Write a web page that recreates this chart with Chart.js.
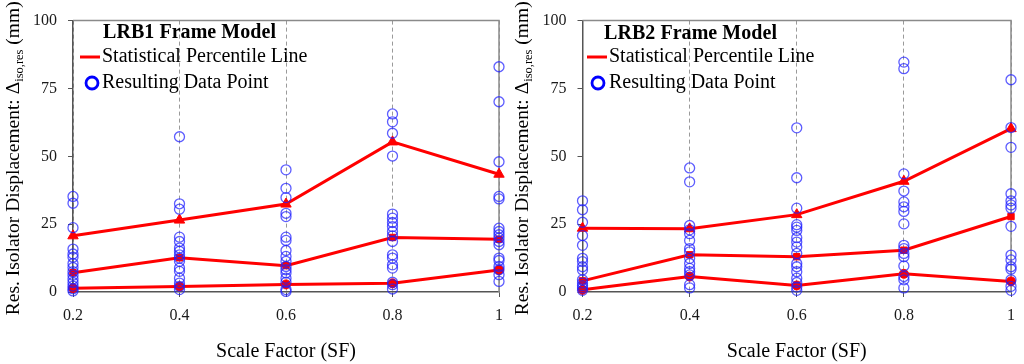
<!DOCTYPE html>
<html>
<head>
<meta charset="utf-8">
<script src="https://cdn.jsdelivr.net/npm/chart.js@4.4.0/dist/chart.umd.min.js"></script>
<style>
    html, body { margin: 0; padding: 0; background: #fff; }
    #wrap { width: 1024px; height: 364px; display: flex; }
    .box { width: 512px; height: 364px; }
</style>
</head>
<body>
<div id="wrap">
    <div class="box"><canvas id="lrb1" width="512" height="364"></canvas></div>
    <div class="box"><canvas id="lrb2" width="512" height="364"></canvas></div>
</div>
<script>
const sfTicks = [0.2, 0.4, 0.6, 0.8, 1]
const yTicks = [0, 25, 50, 75, 100]

// LRB1 percentile lines
const lrb1High = [20.7, 26.5, 32.4, 55.3, 43.4]
const lrb1Mid = [7.1, 12.6, 9.7, 20.1, 19.4]
const lrb1Low = [1.4, 2.0, 2.8, 3.2, 8.1]
// LRB1 resulting data points, one list per scale factor
const lrb1Sf02 = [35.2, 32.7, 23.7, 15.8, 14.0, 12.8, 10.5, 9.0, 7.5, 6.2, 4.8, 3.5, 2.2, 1.2, 0.4]
const lrb1Sf04 = [57.2, 32.5, 30.5, 20.2, 18.6, 16.2, 15.0, 13.7, 12.5, 11.3, 8.8, 7.6, 5.1, 3.3, 2.1, 0.9]
const lrb1Sf06 = [45.0, 38.2, 34.8, 29.0, 27.8, 20.2, 19.0, 15.3, 13.1, 11.3, 9.4, 8.2, 7.0, 5.1, 3.6, 0.9, 0.2]
const lrb1Sf08 = [65.6, 62.7, 58.5, 50.1, 28.7, 27.2, 25.6, 24.1, 22.3, 20.7, 18.6, 13.7, 12.5, 10.0, 8.8, 3.6, 2.7, 1.1]
const lrb1Sf10 = [83.0, 70.1, 48.0, 35.2, 34.3, 23.5, 22.3, 21.1, 19.9, 18.6, 17.4, 12.5, 11.6, 9.4, 8.2, 6.4, 3.9]

// LRB2 percentile lines
const lrb2High = [23.5, 23.3, 28.5, 40.8, 60.2]
const lrb2Mid = [4.1, 13.7, 13.0, 15.4, 27.8]
const lrb2Low = [0.8, 5.7, 2.4, 6.7, 3.9]
// LRB2 resulting data points
const lrb2Sf02 = [33.6, 30.3, 25.7, 20.8, 17.2, 12.4, 11.2, 9.3, 8.1, 4.5, 3.3, 2.3, 1.5, 0.6]
const lrb2Sf04 = [45.7, 40.6, 24.5, 22.9, 21.5, 19.0, 16.0, 14.8, 12.4, 10.5, 8.7, 7.5, 6.3, 2.7, 1.5]
const lrb2Sf06 = [60.5, 42.1, 30.9, 24.8, 23.9, 22.7, 20.0, 18.4, 16.6, 14.2, 10.5, 9.3, 7.5, 5.1, 3.5, 1.8, 0.6]
const lrb2Sf08 = [84.7, 82.3, 43.5, 37.2, 33.2, 31.4, 29.7, 25.1, 17.2, 16.0, 14.2, 13.0, 9.6, 5.7, 4.5, 1.5]
const lrb2Sf10 = [78.2, 60.6, 53.3, 36.2, 33.6, 32.1, 30.9, 24.2, 13.6, 11.8, 9.3, 8.4, 4.5, 2.1, 0.6]

const SERIF = "'Liberation Serif', 'Times New Roman', serif"

function toPoints(xs, ys) {
    return xs.map((x, i) => ({x: x, y: ys[i]}))
}

function scatterPoints(columns) {
    const pts = []
    columns.forEach((col, i) => {
        col.forEach(v => pts.push({x: sfTicks[i], y: v}))
    })
    return pts
}

// frame, legend and the subscripted y title
const decor = {
    id: 'decor',
    beforeDatasetsDraw(chart, args, o) {
        const ctx = chart.ctx
        const a = chart.chartArea
        ctx.save()
        ctx.strokeStyle = '#8a8a8a'
        ctx.lineWidth = 1.5
        ctx.beginPath()
        ctx.moveTo(a.left, a.top)
        ctx.lineTo(a.right, a.top)
        ctx.lineTo(a.right, a.bottom)
        ctx.stroke()
        ctx.restore()
    },
    afterDraw(chart, args, o) {
        const ctx = chart.ctx
        const a = chart.chartArea
        ctx.save()
        ctx.fillStyle = '#000'
        ctx.textBaseline = 'middle'
        ctx.textAlign = 'left'

        // legend title, spread out letter by letter like in the figure
        ctx.font = 'bold 20px ' + SERIF
        const tw = ctx.measureText(o.title).width
        const gap = Math.max(0, (o.titleW - tw) / (o.title.length - 1))
        let tx = o.titleX
        for (const ch of o.title) {
            ctx.fillText(ch, tx, o.titleY)
            tx += ctx.measureText(ch).width + gap
        }

        ctx.font = '20px ' + SERIF
        ctx.strokeStyle = '#ff0000'
        ctx.lineWidth = 3
        ctx.beginPath()
        ctx.moveTo(o.lineX0, o.lineY)
        ctx.lineTo(o.lineX1, o.lineY)
        ctx.stroke()
        ctx.fillText('Statistical Percentile Line', o.textX, o.lineY)
        ctx.strokeStyle = '#0000ff'
        ctx.lineWidth = 2.8
        ctx.beginPath()
        ctx.arc(o.circleX, o.circleY, 6, 0, Math.PI * 2)
        ctx.stroke()
        ctx.fillText('Resulting Data Point', o.textX, o.circleY)

        // y axis title with subscript
        const main = 'Res. Isolator Displacement: \u0394'
        const sub = 'iso,res'
        const tail = ' (mm)'
        ctx.font = '19.5px ' + SERIF
        const w1 = ctx.measureText(main).width
        const w3 = ctx.measureText(tail).width
        ctx.font = '12.5px ' + SERIF
        const w2 = ctx.measureText(sub).width
        ctx.translate(o.yTitleX, (a.top + a.bottom) / 2 + 2)
        ctx.rotate(-Math.PI / 2)
        let x = -(w1 + w2 + w3) / 2
        ctx.font = '19.5px ' + SERIF
        ctx.fillText(main, x, 0)
        x += w1
        ctx.font = '12.5px ' + SERIF
        ctx.fillText(sub, x, 6)
        x += w2
        ctx.font = '19.5px ' + SERIF
        ctx.fillText(tail, x, 0)
        ctx.restore()
    }
}

function makeChart(id, high, mid, low, columns, setup) {
    const line = (data, style, r) => ({
        type: 'line',
        data: toPoints(sfTicks, data),
        borderColor: '#ff0000',
        backgroundColor: '#ff0000',
        borderWidth: 3,
        pointStyle: style,
        pointRadius: r,
        pointBorderWidth: 1,
        tension: 0,
        order: 2,
        clip: false
    })
    return new Chart(document.getElementById(id), {
        type: 'scatter',
        data: {
            datasets: [
                {
                    label: 'Resulting Data Point',
                    data: scatterPoints(columns),
                    borderColor: 'rgba(30, 30, 255, 0.72)',
                    backgroundColor: 'rgba(0,0,0,0)',
                    borderWidth: 1.3,
                    pointRadius: 5,
                    order: 1,
                    clip: false
                },
                line(high, 'triangle', 6),
                line(mid, 'rect', 4.5),
                line(low, 'circle', 4.5)
            ]
        },
        options: {
            responsive: false,
            animation: false,
            devicePixelRatio: 1,
            layout: {padding: {top: setup.top, right: 12, left: 0, bottom: 0}},
            plugins: {
                legend: {display: false},
                tooltip: {enabled: false},
                decor: setup.decor
            },
            scales: {
                x: {
                    type: 'linear',
                    min: 0.2,
                    max: 1,
                    afterBuildTicks: s => { s.ticks = sfTicks.map(v => ({value: v})) },
                    afterFit: s => { s.height = 364 - 292 },
                    ticks: {
                        color: '#1a1a1a',
                        font: {family: SERIF, size: 16},
                        padding: 9,
                        maxRotation: 0,
                        callback: v => String(+v.toFixed(1))
                    },
                    grid: {
                        color: '#9a9a9a',
                        lineWidth: 1,
                        tickLength: 5,
                        tickColor: '#555',
                        tickBorderDash: [],
                        drawOnChartArea: true
                    },
                    border: {display: true, color: '#555', width: 1.5, dash: [4, 3]},
                    title: {
                        display: true,
                        text: 'Scale Factor (SF)',
                        color: '#000',
                        font: {family: SERIF, size: 20},
                        padding: {top: 0, bottom: 0}
                    }
                },
                y: {
                    min: 0,
                    max: 100,
                    afterBuildTicks: s => { s.ticks = yTicks.map(v => ({value: v})) },
                    afterFit: s => { s.width = setup.left },
                    ticks: {
                        color: '#1a1a1a',
                        font: {family: SERIF, size: 16},
                        padding: 11
                    },
                    grid: {
                        drawOnChartArea: false,
                        tickLength: 5,
                        tickColor: '#555'
                    },
                    border: {display: true, color: '#555', width: 1.5}
                }
            }
        },
        plugins: [decor]
    })
}

makeChart('lrb1', lrb1High, lrb1Mid, lrb1Low,
    [lrb1Sf02, lrb1Sf04, lrb1Sf06, lrb1Sf08, lrb1Sf10],
    {
        top: 20, left: 73,
        decor: {
            title: 'LRB1 Frame Model', titleX: 103, titleY: 33, titleW: 173,
            lineX0: 80, lineX1: 100, lineY: 57, textX: 102,
            circleX: 92, circleY: 83, yTitleX: 14
        }
    })

makeChart('lrb2', lrb2High, lrb2Mid, lrb2Low,
    [lrb2Sf02, lrb2Sf04, lrb2Sf06, lrb2Sf08, lrb2Sf10],
    {
        top: 17, left: 70.5,
        decor: {
            title: 'LRB2 Frame Model', titleX: 92, titleY: 34, titleW: 173,
            lineX0: 75, lineX1: 95, lineY: 57, textX: 97,
            circleX: 86, circleY: 83, yTitleX: 11
        }
    })
</script>
</body>
</html>
